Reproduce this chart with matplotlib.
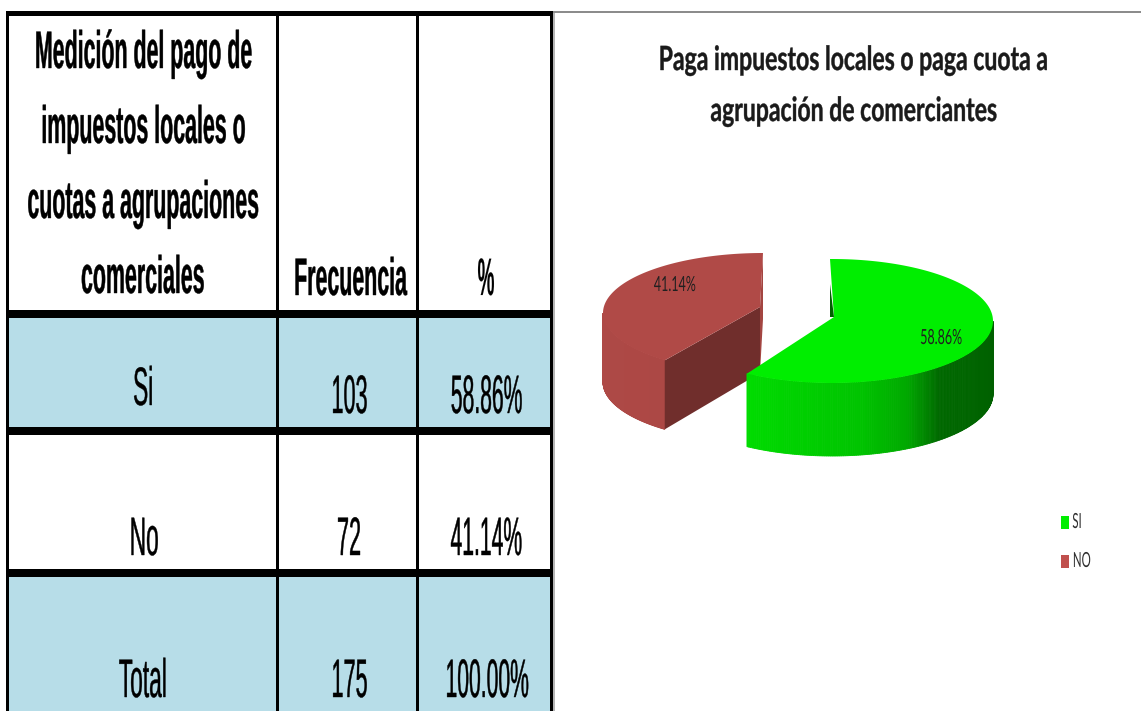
import numpy as np
import matplotlib
matplotlib.use("Agg")
import matplotlib.pyplot as plt
from matplotlib.colors import to_rgb
from matplotlib.patches import Polygon, Rectangle
from matplotlib.patheffects import AbstractPathEffect
from matplotlib.text import Text
from matplotlib.transforms import Affine2D, Bbox

#table data
header_title = ["Medición del pago de", "impuestos locales o", "cuotas a agrupaciones", "comerciales"]
header_cols = ["Frecuencia", "%"]
row_names = ["Si", "No", "Total"]
frecuencia = [103, 72, 175]
porcentaje = ["58.86%", "41.14%", "100.00%"]

#pie data
pie_title = ["Paga impuestos locales o paga cuota a", "agrupación de comerciantes"]
pie_labels = ["SI", "NO"]
pie_values = [103, 72]


class Squeeze(AbstractPathEffect):
    #the reference text is squashed sideways, so narrow each line around its anchor
    def __init__(self, sx, anchor=0.5, stroke=0.0):
        super().__init__()
        self.sx = sx
        self.anchor = anchor
        self.stroke = stroke

    def draw_path(self, renderer, gc, tpath, affine, rgbFace=None):
        box = tpath.get_extents()
        mid = box.x0 + (box.x1 - box.x0) * self.anchor
        squeeze = Affine2D().translate(-mid, 0).scale(self.sx, 1).translate(mid, 0)
        gc0 = renderer.new_gc()
        gc0.copy_properties(gc)
        if self.stroke > 0:
            gc0.set_linewidth(self.stroke)
            gc0.set_foreground(rgbFace)
        renderer.draw_path(gc0, tpath, squeeze + affine, rgbFace)
        gc0.restore()


class NarrowText(Text):
    #report the box of the narrowed text, not the box of the full width one
    def __init__(self, *args, sx=1.0, anchor=0.5, **kwargs):
        super().__init__(*args, **kwargs)
        self.sx = sx
        self.anchor = anchor

    def get_window_extent(self, renderer=None, dpi=None):
        b = super().get_window_extent(renderer, dpi)
        mid = b.x0 + b.width * self.anchor
        return Bbox([[mid - (mid - b.x0) * self.sx, b.y0], [mid + (b.x1 - mid) * self.sx, b.y1]])


fig = plt.figure(figsize=(11.41, 7.11), dpi=100)
ax = fig.add_axes([0, 0, 1, 1])
ax.set_xlim(0, 1141)
ax.set_ylim(711, 0)
ax.axis("off")


def label(x, y, s, size, sx, family="Liberation Sans", weight="normal", ha="center", color="black", stroke=0.0):
    anchor = 0.0 if ha == "left" else 0.5
    t = NarrowText(x, y, s, sx=sx, anchor=anchor, fontsize=size, family=family, weight=weight,
                   ha=ha, va="baseline", color=color, zorder=6)
    t.set_path_effects([Squeeze(sx, anchor, stroke)])
    ax.add_artist(t)


def block(x0, y0, x1, y1, color, z=1):
    ax.add_patch(Rectangle((x0, y0), x1 - x0, y1 - y0, facecolor=color, edgecolor="none", zorder=z))


#---- table ----
blue = "#b7dde8"
block(8, 318, 551, 428, blue)
block(8, 577, 551, 711, blue)

#grid lines
for x0, x1 in [(6, 9), (276, 279), (416, 419), (550, 553)]:
    block(x0, 11, x1, 711, "black", 3)
for y0, y1 in [(11, 16), (310, 318), (427, 435), (569, 577)]:
    block(6, y0, 553, y1, "black", 3)

#gray edge of the chart picture
block(553, 11, 1141, 13, "#8c8c8c", 2)
block(553, 13, 555, 711, "#b5b5b5", 2)

#header text
for line, y in zip(header_title, [68, 143, 218, 293]):
    label(142.5, y, line, 38, 0.405, weight="bold", stroke=0.3)
label(349, 295, header_cols[0], 38, 0.405, weight="bold", stroke=0.3)
label(486, 295, header_cols[1], 38, 0.36, weight="bold", stroke=0.1)

#body rows
for name, freq, pct, y_a, y_b in zip(row_names, frecuencia, porcentaje, [405, 555, 697], [413, 555, 697]):
    label(143.5, y_a, name, 39, 0.42, stroke=0.3)
    label(349, y_b, str(freq), 39, 0.4, stroke=0.3)
    label(486.5, y_b, pct, 39, 0.39, stroke=0.3)


#---- 3d pie ----
def arc(cx, cy, rx, ry, a0, a1, n=120):
    ang = np.radians(np.linspace(a0, a1, n))
    return np.column_stack([cx + rx * np.cos(ang), cy - ry * np.sin(ang)])


def wall(cx, cy, rx, ry, depth, a0, a1, stops, z):
    #outer side of a slice as thin strips so it can carry a gradient
    edges = np.linspace(a0, a1, 160)
    for a, b in zip(edges[:-1], edges[1:]):
        top = arc(cx, cy, rx, ry, a, b, 3)
        low = top[::-1] + [0, depth]
        c = [np.interp((a + b) / 2, [s[0] for s in stops], [to_rgb(s[1])[i] for s in stops]) for i in range(3)]
        ax.add_patch(Polygon(np.vstack([top, low]), facecolor=c, edgecolor=c, lw=0.6, zorder=z))


share = np.array(pie_values) / sum(pie_values)
split = 90 - share[0] * 360

#red slice, pulled out to the upper left. the view makes its cut look a bit wider
red_end = 360 + split - 6
rc = (763, 313)
rr = (160, 60)
rapex = np.array([760, 307])
rdepth = 69
wall(rc[0], rc[1], rr[0], rr[1], rdepth, 180, red_end, [(180, "#ae4946"), (240, "#ac4845")], 4)
end = arc(rc[0], rc[1], rr[0], rr[1], red_end, red_end, 1)[0]
ax.add_patch(Polygon([rapex, end, end + [0, rdepth], rapex + [0, rdepth - 3]], facecolor="#702e2c", edgecolor="none", zorder=4))
top_red = arc(rc[0], rc[1], rr[0], rr[1], 90, red_end)
ax.add_patch(Polygon(np.vstack([[rapex], top_red]), facecolor="#b04a47", edgecolor="none", zorder=4.1))
ax.add_patch(Polygon([top_red[0], rapex, rapex + [0, rdepth - 3], top_red[0] + [0, rdepth - 3]], facecolor="#a34541", edgecolor="none", zorder=3.9))

#green slice
gc = (832, 321)
gr = (161, 62)
gapex = np.array([834, 317])
gdepth = 73
stops = [(split, "#00dc00"), (-80, "#00c400"), (-62, "#00a800"), (-48, "#006800"), (0, "#005f00")]
wall(gc[0], gc[1], gr[0], gr[1], gdepth, split, 0, stops, 5)
top_green = arc(gc[0], gc[1], gr[0], gr[1], split, 90)
ax.add_patch(Polygon(np.vstack([[gapex], top_green, top_green[-1] - [2, 0]]), facecolor="#00ee00", edgecolor="none", zorder=5.1))
ax.add_patch(Polygon([top_green[-1] + [-2, 25], gapex, gapex + [-4, 0]], facecolor="#006000", edgecolor="none", zorder=5.2))

#pie text
label(854, 70, pie_title[0], 24, 0.69, family="Lato", weight="bold", color="#1a1a1a", stroke=0.3)
label(854, 121, pie_title[1], 24, 0.69, family="Lato", weight="bold", color="#1a1a1a", stroke=0.3)
label(675, 291, "%.2f%%" % (share[1] * 100), 15, 0.6, family="Lato", color="#202020")
label(941, 344, "%.2f%%" % (share[0] * 100), 15, 0.6, family="Lato", color="#202020")

#legend
for name, color, y in zip(pie_labels, ["#00ee00", "#c0504d"], [522, 561]):
    block(1061, y - 6, 1069, y + 7, color)
    label(1072, y + 6, name, 15, 0.55, family="Lato", ha="left", color="#303030")

fig.savefig("out.png", dpi=100)
